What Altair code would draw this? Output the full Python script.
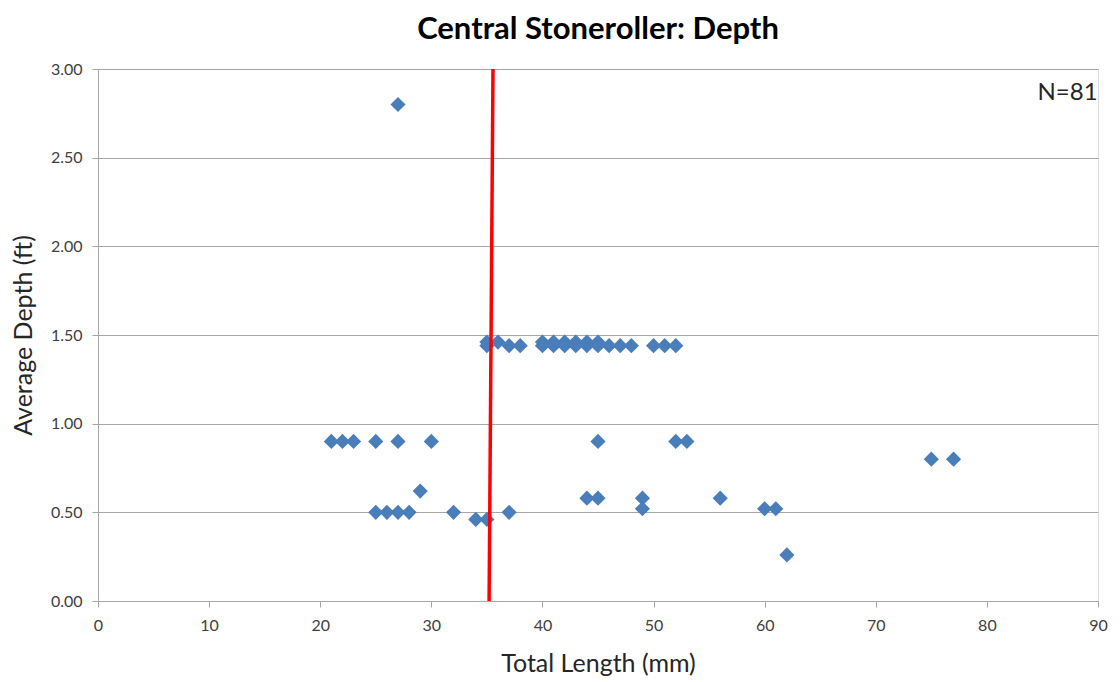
import altair as alt
import pandas as pd

# Visible scatter points (Total Length mm, Average Depth ft)
lengths = [21, 22, 23, 25, 27, 30, 45, 52, 53,
           25, 26, 27, 28, 32, 37,
           34, 35,
           29,
           44, 45, 49, 56,
           49, 60, 61,
           62,
           75, 77,
           27,
           35, 35, 36, 37, 38,
           40, 40, 41, 41, 42, 42, 43, 43, 44, 44, 45, 45,
           46, 47, 48, 50, 51, 52]
depths = [0.90, 0.90, 0.90, 0.90, 0.90, 0.90, 0.90, 0.90, 0.90,
          0.50, 0.50, 0.50, 0.50, 0.50, 0.50,
          0.46, 0.46,
          0.62,
          0.58, 0.58, 0.58, 0.58,
          0.52, 0.52, 0.52,
          0.26,
          0.80, 0.80,
          2.80,
          1.46, 1.44, 1.46, 1.44, 1.44,
          1.46, 1.44, 1.46, 1.44, 1.46, 1.44, 1.46, 1.44, 1.46, 1.44, 1.46, 1.44,
          1.44, 1.44, 1.44, 1.44, 1.44, 1.44]

# Red reference line endpoints
line_x = [35.2, 35.55]
line_y = [0.0, 3.0]

x_ticks = [0, 10, 20, 30, 40, 50, 60, 70, 80, 90]
y_ticks = [0.0, 0.5, 1.0, 1.5, 2.0, 2.5, 3.0]

pts = pd.DataFrame({"len": lengths, "depth": depths})
ln = pd.DataFrame({"len": line_x, "depth": line_y})
note = pd.DataFrame({"len": [87.26], "depth": [2.865], "t": ["N=81"]})

FONT = "Lato"

xscale = alt.Scale(domain=[0, 90], nice=False, zero=False)
yscale = alt.Scale(domain=[0, 3], nice=False, zero=False)

xaxis = alt.Axis(values=x_ticks, title="Total Length (mm)", grid=False,
                 domainColor="#a6a6a6", tickColor="#a6a6a6", tickSize=6,
                 labelFont=FONT, labelFontSize=16, labelColor="#404040",
                 labelFlush=False, labelPadding=10,
                 titleFont=FONT, titleFontSize=25,
                 titleFontWeight="normal", titleColor="#262626", titlePadding=18)
yaxis = alt.Axis(values=y_ticks, format=".2f", title="Average Depth (ft)",
                 grid=True, gridColor="#a6a6a6", gridWidth=1,
                 domainColor="#a6a6a6", tickColor="#a6a6a6", tickSize=6,
                 labelFont=FONT, labelFontSize=16, labelColor="#404040",
                 labelFlush=False, labelPadding=10,
                 titleFont=FONT, titleFontSize=25,
                 titleFontWeight="normal", titleColor="#262626", titlePadding=14)

scatter = alt.Chart(pts).mark_point(shape="diamond", filled=True, size=230,
                                    color="#4a7ebb", opacity=1).encode(
    x=alt.X("len:Q", scale=xscale, axis=xaxis),
    y=alt.Y("depth:Q", scale=yscale, axis=yaxis),
)

line = alt.Chart(ln).mark_line(color="#ff0000", strokeWidth=3.5).encode(
    x=alt.X("len:Q", scale=xscale),
    y=alt.Y("depth:Q", scale=yscale),
)

text = alt.Chart(note).mark_text(font=FONT, fontSize=24, color="#262626",
                                 align="center", baseline="middle").encode(
    x=alt.X("len:Q", scale=xscale),
    y=alt.Y("depth:Q", scale=yscale),
    text="t:N",
)

chart = alt.layer(scatter, line, text).properties(
    width=1000, height=532,
    title=alt.TitleParams("Central Stoneroller: Depth", font=FONT, fontSize=31,
                          fontWeight="bold", color="#000000", anchor="middle",
                          offset=15),
    autosize=alt.AutoSizeParams(type="none"),
    padding={"left": 90, "top": 61, "right": 14, "bottom": 80},
).configure_view(stroke=None).configure(background="white")

chart.save("out.html", embed_options={"renderer": "svg", "actions": False})
